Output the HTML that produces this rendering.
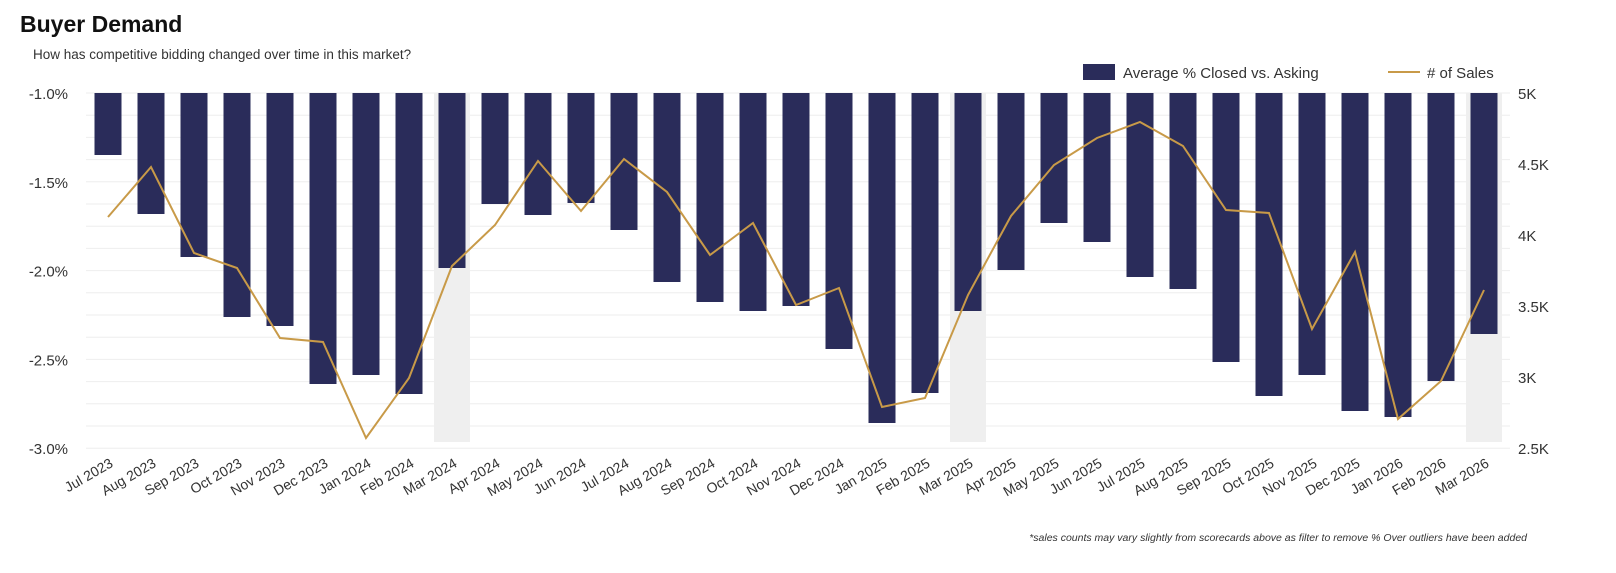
<!DOCTYPE html>
<html><head><meta charset="utf-8"><style>
body{margin:0;background:#fff;width:1616px;height:568px;overflow:hidden;font-family:"Liberation Sans",sans-serif}
</style></head><body>
<svg width="1616" height="568" xmlns="http://www.w3.org/2000/svg" font-family="Liberation Sans, sans-serif">
<text x="20" y="32" font-size="23" font-weight="bold" fill="#111" font-family="Liberation Sans Narrow, Liberation Sans, sans-serif">Buyer Demand</text>
<text x="33" y="59" font-size="13.5" fill="#333">How has competitive bidding changed over time in this market?</text>
<rect x="1083" y="64" width="32" height="16" fill="#2a2c5a"/>
<text x="1123" y="78" font-size="15" fill="#333">Average % Closed vs. Asking</text>
<line x1="1388" y1="72" x2="1420" y2="72" stroke="#c89a48" stroke-width="2"/>
<text x="1427" y="78" font-size="15" fill="#333"># of Sales</text>
<g id="grid" stroke="#eee" stroke-width="1"></g>
<g id="bands" fill="#efefef"></g>
<g id="bars" fill="#2a2c5a"></g>
<polyline id="line" fill="none" stroke="#c89a48" stroke-width="2"/>
<g id="yl" font-size="15" fill="#333"></g>
<g id="xl" font-size="14" fill="#333"></g>
<text x="1527" y="541" font-size="10.5" font-style="italic" fill="#333" text-anchor="end">*sales counts may vary slightly from scorecards above as filter to remove % Over outliers have been added</text>
</svg>
<script>
const ns="http://www.w3.org/2000/svg";
function el(t,a,p,txt){const e=document.createElementNS(ns,t);for(const k in a)e.setAttribute(k,a[k]);if(txt)e.textContent=txt;document.getElementById(p).appendChild(e);return e;}
const months=["Jan","Feb","Mar","Apr","May","Jun","Jul","Aug","Sep","Oct","Nov","Dec"];
const bars=[155,214,257,317,326,384,375,394,268,204,215,203,230,282,302,311,306,349,423,393,311,270,223,242,277,289,362,396,375,411,417,381,334];
const ly=[217,167,253,268,338,342,438,378,266,225,161,211,159,192,255,223,305,288,407,398,295,216,165,138,122,146,210,213,329,252,419,381,290];
for(let y=93;y<=449;y+=22.2)el('line',{x1:86,x2:1510,y1:y,y2:y},'grid');
[8,20,32].forEach(i=>{const c=108+i*43;el('rect',{x:c-18,y:93,width:36,height:349},'bands');});
let pts=[];
for(let i=0;i<33;i++){const c=108+i*43;el('rect',{x:c-13.5,y:93,width:27,height:bars[i]-93},'bars');pts.push(c+','+ly[i]);
const m=(6+i)%12, yr=2023+Math.floor((6+i)/12);
el('text',{x:c+6,y:466,'text-anchor':'end',transform:`rotate(-30 ${c+6} 466)`},'xl',months[m]+' '+yr);}
document.getElementById('line').setAttribute('points',pts.join(' '));
["-1.0%","-1.5%","-2.0%","-2.5%","-3.0%"].forEach((t,i)=>el('text',{x:68,y:99+i*88.75,'text-anchor':'end'},'yl',t));
["5K","4.5K","4K","3.5K","3K","2.5K"].forEach((t,i)=>el('text',{x:1518,y:99+i*71,'text-anchor':'start'},'yl',t));
</script>
</body></html>
